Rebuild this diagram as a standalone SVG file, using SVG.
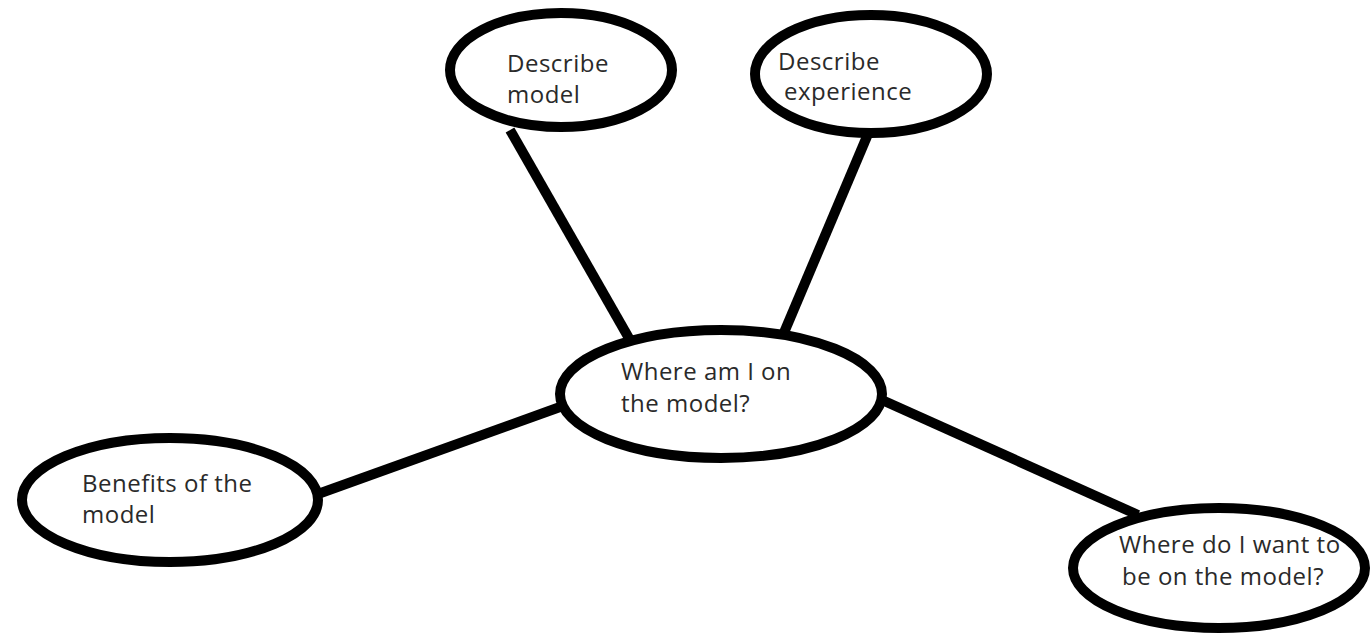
<svg xmlns="http://www.w3.org/2000/svg" width="1371" height="635" viewBox="0 0 1371 635">
<style>
.node ellipse{fill:#fff;stroke:#000;stroke-width:10}
.conn line{stroke:#000;stroke-width:10;stroke-linecap:butt}
text{font-family:"Open Sans","DejaVu Sans",sans-serif;font-size:24px;letter-spacing:0.5px;fill:#2a2a2a}
</style>
<rect width="1371" height="635" fill="#fff"/>
<g id="connectors" class="conn">
<line x1="510" y1="130" x2="630" y2="340"/>
<line x1="868" y1="134" x2="783" y2="335"/>
<line x1="560" y1="407" x2="318" y2="494"/>
<line x1="882" y1="400" x2="1138" y2="515"/>
</g>
<g id="describe-model" class="node">
<ellipse cx="561" cy="70" rx="111" ry="57"/>
<text x="507" y="72">Describe</text>
<text x="507" y="103">model</text>
</g>
<g id="describe-experience" class="node">
<ellipse cx="871" cy="74" rx="116" ry="59"/>
<text x="778" y="70">Describe</text>
<text x="784" y="100">experience</text>
</g>
<g id="where-am-i" class="node">
<ellipse cx="721" cy="394" rx="161" ry="64"/>
<text x="621" y="380">Where am I on</text>
<text x="621" y="412">the model?</text>
</g>
<g id="benefits" class="node">
<ellipse cx="170" cy="500" rx="148" ry="62"/>
<text x="82" y="492">Benefits of the</text>
<text x="82" y="523">model</text>
</g>
<g id="where-want" class="node">
<ellipse cx="1219" cy="568" rx="146" ry="60"/>
<text x="1119" y="553">Where do I want to</text>
<text x="1122" y="585">be on the model?</text>
</g>
</svg>
